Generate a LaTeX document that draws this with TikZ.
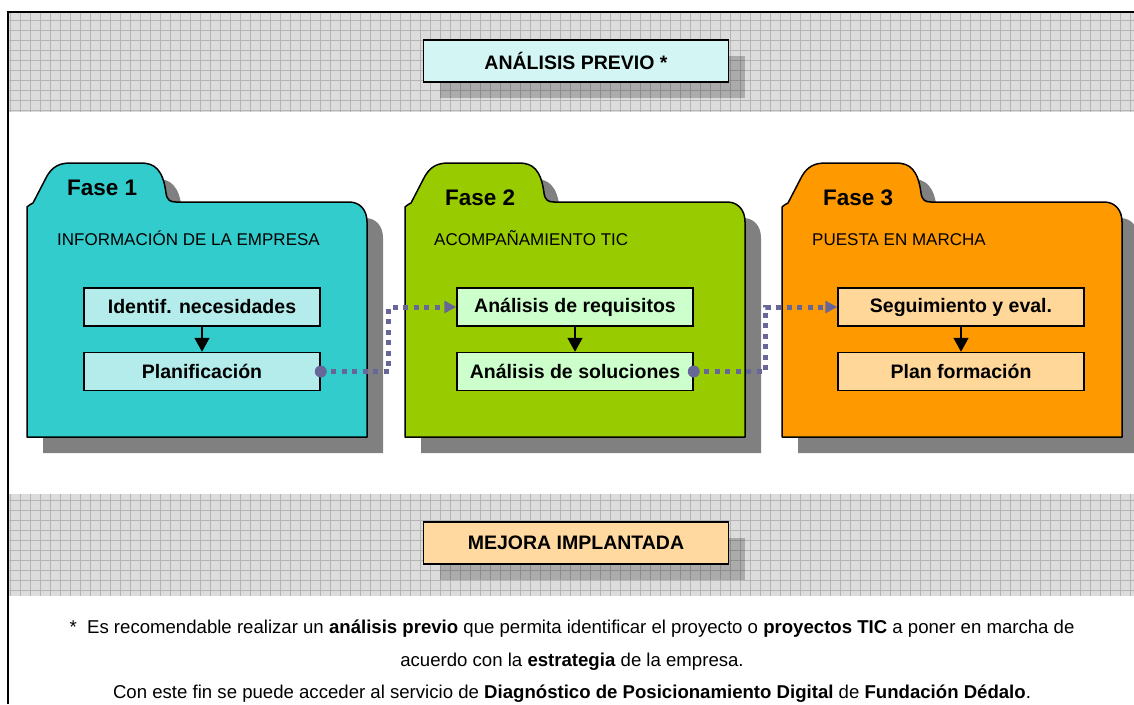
\documentclass[tikz,border=0pt]{standalone}
\usepackage{fontspec}
\setmainfont{Liberation Sans}
\usetikzlibrary{arrows.meta,positioning,shadows}

\definecolor{colFase1}{HTML}{33CCCC}
\definecolor{colFase2}{HTML}{99CC00}
\definecolor{colFase3}{HTML}{FF9900}
\definecolor{colCaja1}{HTML}{B4ECEC}
\definecolor{colCaja2}{HTML}{CCFFCC}
\definecolor{colCaja3}{HTML}{FFD799}
\definecolor{colPrevio}{HTML}{D3F5F3}
\definecolor{colMejora}{HTML}{FFD9A0}
\definecolor{colBanda}{HTML}{DCDCDC}
\definecolor{colRejilla}{HTML}{B4B4B4}
\definecolor{colSombra}{HTML}{808080}
\definecolor{colEnlace}{HTML}{666699}

\tikzstyle{stepbox} = [draw, line width=1.5pt, minimum width=236pt, minimum height=38pt,
    inner sep=0pt, font=\fontsize{19.5}{22}\selectfont\bfseries]
\tikzstyle{banner} = [draw, line width=1.5pt, minimum width=305pt, minimum height=42pt,
    font=\fontsize{19.5}{22}\selectfont\bfseries,
    drop shadow={shadow xshift=16pt, shadow yshift=-16pt, fill=black, opacity=0.22}]
\tikzstyle{foldline} = [draw=black, line width=1.5pt, line join=round]
\tikzstyle{fasetxt} = [anchor=base west, inner sep=0pt, font=\fontsize{22.5}{26}\selectfont\bfseries]
\tikzstyle{subtxt} = [anchor=base west, inner sep=0pt, font=\fontsize{17}{20}\selectfont]
\tikzstyle{nota} = [anchor=base, inner sep=0pt, font=\fontsize{18.6}{21}\selectfont]
\tikzstyle{paso} = [draw, line width=1.5pt, -{Triangle[length=14pt,width=15pt]}]
\tikzstyle{link} = [draw=colEnlace, line width=5pt, dash pattern=on 5pt off 5.5pt,
    -{Triangle[length=12pt,width=12pt]}]

% folder outline, left edge at x=0
\newcommand{\folderpath}{(0,437) -- (0,207) .. controls (2,205) and (4,204) .. (6,203)
    -- (20,176) .. controls (26,166) and (33,163) .. (44,163) -- (114,163)
    .. controls (128,163) and (136,170) .. (139,193) .. controls (140,200) and (143,202) .. (149,202)
    -- (322,202) .. controls (333,202) and (340,210) .. (340,222) -- (340,437) -- cycle}

\newcommand{\folder}[2]{%
    \begin{scope}[xshift=#1]
        \fill[colSombra, shift={(16,16)}] \folderpath;
        \draw[foldline, fill=#2] \folderpath;
    \end{scope}}

\begin{document}
\begin{tikzpicture}[x=1pt, y=-1pt]
    \useasboundingbox (0,0) rectangle (1134,704);

    % bandas rayadas
    \fill[colBanda] (9,13) rectangle (1134,112);
    \draw[colRejilla, line width=0.8pt, step=10pt] (9,112) grid (1134,13);
    \fill[colBanda] (9,494) rectangle (1134,596);
    \draw[colRejilla, line width=0.8pt, step=10pt] (9,596) grid (1134,494);

    % marco
    \draw[line width=2pt] (8,704) -- (8,12) -- (1134,12);

    % carpetas
    \folder{27}{colFase1}
    \folder{405}{colFase2}
    \folder{782}{colFase3}

    \node[fasetxt] (fase1) at (67,195) {Fase 1};
    \node[fasetxt] (fase2) at (445,205) {Fase 2};
    \node[fasetxt] (fase3) at (823,205) {Fase 3};

    \node[subtxt] (info) at (57,245) {INFORMACIÓN DE LA EMPRESA};
    \node[subtxt] (acomp) at (434,245) {ACOMPAÑAMIENTO TIC};
    \node[subtxt] (puesta) at (812,245) {PUESTA EN MARCHA};

    % pasos
    \node[stepbox, fill=colCaja1] (idn) at (202,307) {Identif. necesidades};
    \node[stepbox, fill=colCaja1, below=25pt of idn] (plan) {Planificación};
    \node[stepbox, fill=colCaja2] (req) at (575,307) {Análisis de requisitos};
    \node[stepbox, fill=colCaja2, below=25pt of req] (sol) {Análisis de soluciones};
    \node[stepbox, fill=colCaja3, minimum width=246pt] (seg) at (961,307) {Seguimiento y eval.};
    \node[stepbox, fill=colCaja3, minimum width=246pt, below=25pt of seg] (form) {Plan formación};

    \draw[paso] (idn) -- (plan);
    \draw[paso] (req) -- (sol);
    \draw[paso] (seg) -- (form);

    % enlaces entre fases
    \draw[link] (plan.east) -- ++(68,0) |- (req.west);
    \fill[colEnlace] (plan.east) circle (6pt);
    \draw[link] (sol.east) -- ++(72,0) |- (seg.west);
    \fill[colEnlace] (sol.east) circle (6pt);

    % cabecera y pie
    \node[banner, fill=colPrevio] (previo) at (576,61) {ANÁLISIS PREVIO *};
    \node[banner, fill=colMejora] (mejora) at (576,543) {MEJORA IMPLANTADA};

    \node[nota] (nota1) at (572,633) {*\ \ Es recomendable realizar un \textbf{análisis previo} que permita identificar el proyecto o \textbf{proyectos TIC} a poner en marcha de};
    \node[nota] (nota2) at (572,666) {acuerdo con la \textbf{estrategia} de la empresa.};
    \node[nota] (nota3) at (572,698) {Con este fin se puede acceder al servicio de \textbf{Diagnóstico de Posicionamiento Digital} de \textbf{Fundación Dédalo}.};
\end{tikzpicture}
\end{document}
